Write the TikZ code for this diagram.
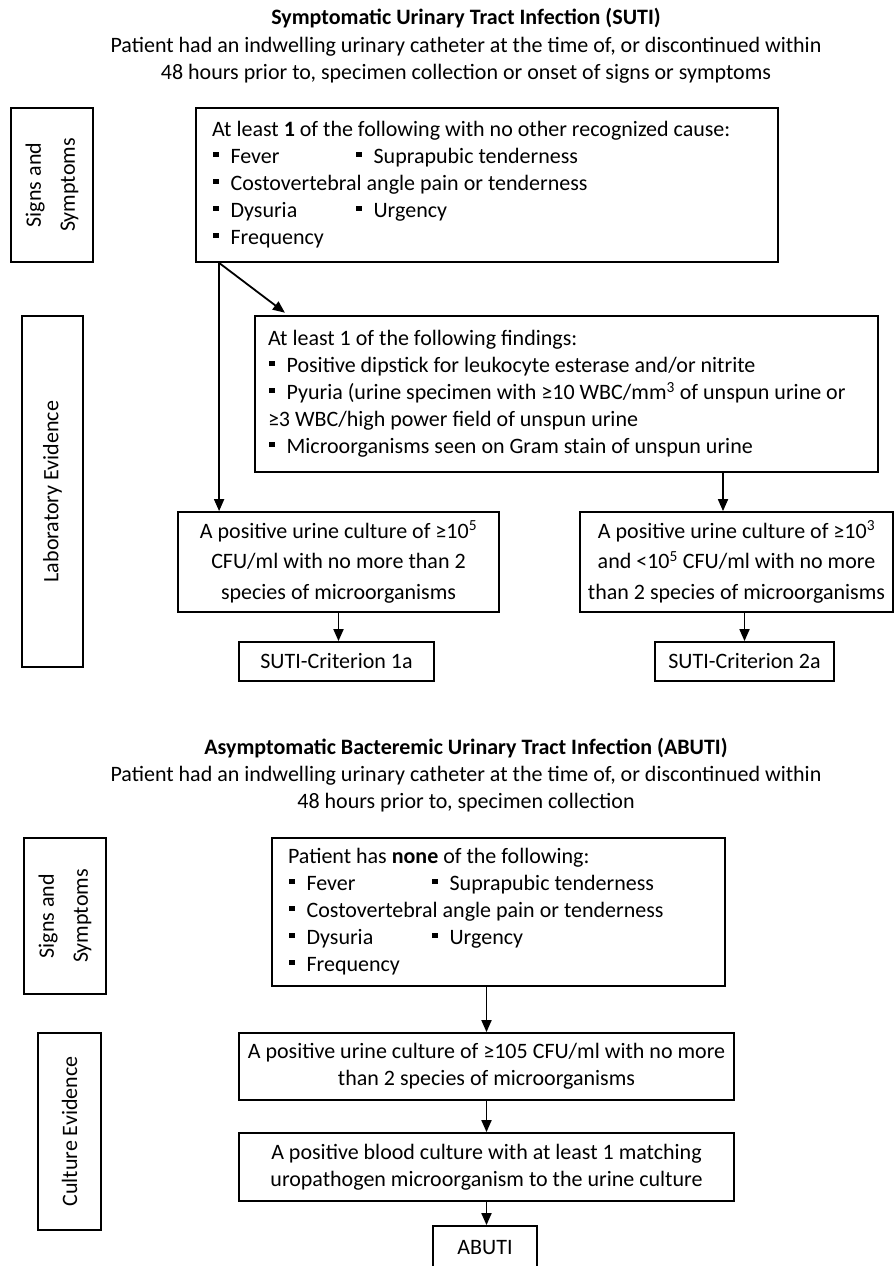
\documentclass[tikz,border=0pt]{standalone}
\usepackage{fontspec}
\setmainfont{Carlito}
\usepackage{tikz}
\usetikzlibrary{positioning}
\usetikzlibrary{arrows.meta}

\newcommand{\sqb}{\hspace{1pt}\rule[0.3em]{0.25em}{0.25em}\hspace{0.55em}}
\newcommand{\twocol}[2]{\makebox[143pt][l]{\sqb #1}\sqb #2}

\tikzset{
    box/.style={draw, line width=1.8pt, inner sep=0pt, align=center},
    listbox/.style={box, inner xsep=16pt},
    sidebox/.style={box, rotate=90, font=\fontsize{22}{34}\selectfont},
    arr/.style={line width=1.8pt, -{Triangle[length=12pt,width=10pt]}},
    title/.style={font=\fontsize{22}{27}\selectfont\bfseries, align=center}
}

\begin{document}
\begin{tikzpicture}[x=1pt, y=-1pt, font=\fontsize{22}{27}\selectfont]
    \useasboundingbox (0,0) rectangle (896,1266);

    % SUTI header
    \node[title] (sutit) at (466,18) {Symptomatic Urinary Tract Infection (SUTI)};
    \node[align=center] (sutis) at (466,60) {Patient had an indwelling urinary catheter at the time of, or discontinued within\\48 hours prior to, specimen collection or onset of signs or symptoms};

    % Side labels
    \node[sidebox, minimum width=154pt, minimum height=82pt] (ss1) at (52,185) {Signs and\\Symptoms};
    \node[sidebox, minimum width=351pt, minimum height=61pt] (lab1) at (52.5,491.5) {Laboratory Evidence};

    % Signs and symptoms
    \node[listbox, minimum height=154pt] (sym1) at (487,185) {\parbox{550pt}{\raggedright
        At least \textbf{1} of the following with no other recognized cause:\\
        \twocol{Fever}{Suprapubic tenderness}\\
        \sqb Costovertebral angle pain or tenderness\\
        \twocol{Dysuria}{Urgency}\\
        \sqb Frequency}};

    % Lab findings
    \node[listbox, inner xsep=13pt, minimum height=156pt] (lab) at (566.5,394) {\parbox{597pt}{\raggedright
        At least 1 of the following findings:\\
        \sqb Positive dipstick for leukocyte esterase and/or nitrite\\
        \sqb Pyuria (urine specimen with ≥10 WBC/mm\textsuperscript{3} of unspun urine or\\
        ≥3 WBC/high power field of unspun urine\\
        \sqb Microorganisms seen on Gram stain of unspun urine}};

    % Cultures
    \node[box, minimum width=321pt, minimum height=100pt, font=\fontsize{22}{30.5}\selectfont] (cul1) at (338.5,562) {A positive urine culture of ≥10\textsuperscript{5}\\CFU/ml with no more than 2\\species of microorganisms};
    \node[box, minimum width=313pt, minimum height=100pt, font=\fontsize{22}{30.5}\selectfont] (cul2) at (736.5,562) {A positive urine culture of ≥10\textsuperscript{3}\\and <10\textsuperscript{5} CFU/ml with no more\\than 2 species of microorganisms};

    % Criteria
    \node[box, minimum width=195pt, minimum height=39pt] (crit1) at (336.5,661.5) {SUTI-Criterion 1a};
    \node[box, minimum width=179pt, minimum height=39pt] (crit2) at (744.5,661.5) {SUTI-Criterion 2a};

    % Arrows
    \coordinate (fork) at ([xshift=24pt]sym1.south west);
    \draw[arr] (fork) -- (fork |- cul1.north);
    \draw[arr, shorten >=4pt] (fork) -- ([xshift=34pt]lab.north west);
    \draw[arr] ([xshift=-13.5pt]cul2.north |- lab.south) -- ([xshift=-13.5pt]cul2.north);
    \draw[arr] (cul1.south) -- (cul1.south |- crit1.north);
    \draw[arr] (crit2.north |- cul2.south) -- (crit2.north);

    % ABUTI header
    \node[title] (abutit) at (466,748) {Asymptomatic Bacteremic Urinary Tract Infection (ABUTI)};
    \node[align=center] (abutis) at (466,789) {Patient had an indwelling urinary catheter at the time of, or discontinued within\\48 hours prior to, specimen collection};

    % Side labels
    \node[sidebox, minimum width=156pt, minimum height=82pt] (ss2) at (65,916) {Signs and\\Symptoms};
    \node[sidebox, minimum width=197pt, minimum height=63pt] (ce) at (69.5,1131.5) {Culture Evidence};

    % No signs
    \node[listbox, minimum height=148pt] (sym2) at (498.5,912) {\parbox{421pt}{\raggedright
        Patient has \textbf{none} of the following:\\
        \twocol{Fever}{Suprapubic tenderness}\\
        \sqb Costovertebral angle pain or tenderness\\
        \twocol{Dysuria}{Urgency}\\
        \sqb Frequency}};

    % Culture evidence
    \node[box, minimum width=495pt, minimum height=67pt] (cu) at (486.5,1066.5) {A positive urine culture of ≥105 CFU/ml with no more\\than 2 species of microorganisms};
    \node[box, minimum width=495pt, minimum height=68pt] (bl) at (486.5,1167) {A positive blood culture with at least 1 matching\\uropathogen microorganism to the urine culture};
    \node[box, minimum width=104pt, minimum height=44pt] (abuti) at (485,1248) {ABUTI};

    % Arrows
    \draw[arr] (cu.north |- sym2.south) -- (cu.north);
    \draw[arr] (cu.south) -- (bl.north);
    \draw[arr] (bl.south) -- (bl.south |- abuti.north);
\end{tikzpicture}
\end{document}
